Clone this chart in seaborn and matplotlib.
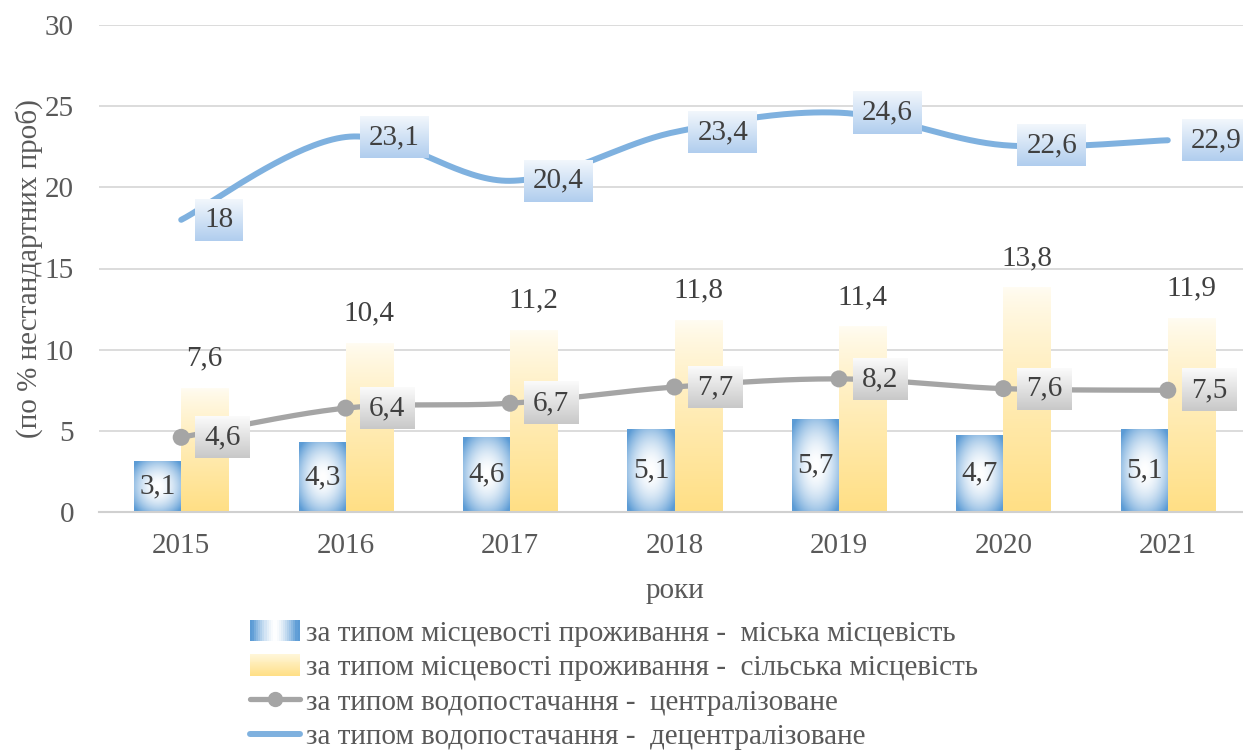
import numpy as np
import pandas as pd
import matplotlib
matplotlib.use("Agg")
import matplotlib.pyplot as plt
import seaborn as sns
from matplotlib import font_manager
from matplotlib.colors import to_rgb
from matplotlib.legend_handler import HandlerBase
from matplotlib.patches import Rectangle
from matplotlib.lines import Line2D

# data
years = ["2015", "2016", "2017", "2018", "2019", "2020", "2021"]
urban = [3.1, 4.3, 4.6, 5.1, 5.7, 4.7, 5.1]
rural = [7.6, 10.4, 11.2, 11.8, 11.4, 13.8, 11.9]
central = [4.6, 6.4, 6.7, 7.7, 8.2, 7.6, 7.5]
decentral = [18, 23.1, 20.4, 23.4, 24.6, 22.6, 22.9]
series_names = [
    "за типом місцевості проживання -  міська місцевість",
    "за типом місцевості проживання -  сільська місцевість",
    "за типом водопостачання -  централізоване",
    "за типом водопостачання -  децентралізоване",
]

BLUE = "#5B9BD5"
LINE_BLUE = "#7FB1DF"
GRAY = "#A5A5A5"
YELLOW_BOT = "#FFDF85"
YELLOW_TOP = "#FFFCF2"
TXT = "#404040"
TICK = "#595959"
FS = 21


def pick_font(cands):
    for name in cands:
        try:
            font_manager.findfont(font_manager.FontProperties(family=name), fallback_to_default=False)
            return name
        except ValueError:
            continue
    return "DejaVu Serif"


def lerp(c1, c2, t):
    a, b = np.array(to_rgb(c1)), np.array(to_rgb(c2))
    t = np.asarray(t)[..., None]
    return a * (1 - t) + b * t


def fmt(v):
    return f"{v:g}".replace(".", ",")


def smooth(xs, ys, n=40):
    # catmull-rom style smoothing, like excel "smoothed line"
    pts = np.column_stack([xs, ys]).astype(float)
    ext = np.vstack([pts[0], pts, pts[-1]])
    out = []
    for i in range(len(pts) - 1):
        p0, p1, p2, p3 = ext[i], ext[i + 1], ext[i + 2], ext[i + 3]
        c1 = p1 + (p2 - p0) / 6
        c2 = p2 - (p3 - p1) / 6
        t = np.linspace(0, 1, n)[:, None]
        seg = (1 - t) ** 3 * p1 + 3 * (1 - t) ** 2 * t * c1 + 3 * (1 - t) * t ** 2 * c2 + t ** 3 * p2
        out.append(seg if i == 0 else seg[1:])
    out = np.vstack(out)
    return out[:, 0], out[:, 1]


def radial_blue(nx=60, ny=120):
    u = np.linspace(-1, 1, nx)
    v = np.linspace(-1, 1, ny)
    U, V = np.meshgrid(u, v)
    t = np.clip(np.sqrt(U ** 2 + V ** 2) / 1.3, 0, 1) ** 1.9
    return lerp("#FFFFFF", BLUE, t)


def vertical(top, bot, ny=120, power=0.8):
    t = np.linspace(1, 0, ny) ** power  # origin lower: row 0 is bottom
    return lerp(top, bot, t)[:, None, :]


class GradientHandler(HandlerBase):
    def __init__(self, kind):
        super().__init__()
        self.kind = kind

    def create_artists(self, legend, orig_handle, xdescent, ydescent, width, height, fontsize, trans):
        arts = []
        n = 24
        if self.kind == "blue":
            for k in range(n):
                s = (k + 0.5) / n
                t = min(abs(s - 0.5) * 2 / 0.9, 1) ** 1.5
                c = lerp("#FFFFFF", BLUE, t)
                arts.append(Rectangle((-xdescent + width * k / n, -ydescent), width / n * 1.05, height,
                                      facecolor=c, edgecolor="none", lw=0, transform=trans))
        else:
            for k in range(n):
                s = (k + 0.5) / n
                c = lerp(YELLOW_BOT, "#FFF6DA", s)
                arts.append(Rectangle((-xdescent, -ydescent + height * k / n), width, height / n * 1.05,
                                      facecolor=c, edgecolor="none", lw=0, transform=trans))
        return arts


sns.set_theme(style="white")
serif = pick_font(["Liberation Serif", "Tinos", "Times New Roman", "PT Serif"])
plt.rcParams["font.family"] = [serif, "DejaVu Serif"]

W, H = 1243, 753
fig = plt.figure(figsize=(W / 100, H / 100), dpi=100)
ax = fig.add_axes([99 / W, 1 - 512 / H, (1250 - 99) / W, (512 - 25) / H])

df = pd.DataFrame({
    "year": years * 2,
    "value": urban + rural,
    "type": [series_names[0]] * len(years) + [series_names[1]] * len(years),
})
sns.barplot(data=df, x="year", y="value", hue="type", palette=[BLUE, YELLOW_BOT],
            width=0.572, gap=0, saturation=1, errorbar=None, legend=False, ax=ax, zorder=2)

ax.set_autoscale_on(False)
ax.set_xlim(-0.5, 6.5)
ax.set_ylim(0, 30)

blue_img = radial_blue()
yellow_img = vertical(YELLOW_TOP, YELLOW_BOT)
for cont, img in zip(ax.containers, [blue_img, yellow_img]):
    for p in cont.patches:
        x0, y0, w, h = p.get_x(), p.get_y(), p.get_width(), p.get_height()
        p.set_alpha(0)
        ax.imshow(img, extent=(x0, x0 + w, y0, y0 + h), origin="lower", aspect="auto",
                  interpolation="bilinear", zorder=2.1)

xpos = np.arange(len(years))
sx, sy = smooth(xpos, central)
ax.plot(sx, sy, color=GRAY, lw=3.8, solid_capstyle="round", zorder=3)
sns.scatterplot(x=xpos, y=central, color=GRAY, s=150, edgecolor="none", ax=ax, zorder=3.2)
sx, sy = smooth(xpos, decentral)
ax.plot(sx, sy, color=LINE_BLUE, lw=4.3, solid_capstyle="round", zorder=3)

# labels on bars
for p, v in zip(ax.containers[0].patches, urban):
    ax.text(p.get_x() + p.get_width() / 2, v / 2, fmt(v), ha="center", va="center",
            fontsize=FS, color=TXT, zorder=6)
for p, v in zip(ax.containers[1].patches, rural):
    ax.annotate(fmt(v), (p.get_x() + p.get_width() / 2, v), xytext=(0, 30), textcoords="offset pixels",
                ha="center", va="center", fontsize=FS, color=TXT, zorder=6)

# labels in gradient boxes to the right of the line points
boxed = []
for vals, top, bot in [(central, "#FBFBFB", "#C8C8C8"), (decentral, "#F2F7FC", "#B0CDEE")]:
    for i, v in enumerate(vals):
        t = ax.annotate(fmt(v), (i, v), xytext=(23, 0), textcoords="offset pixels",
                        ha="left", va="center", fontsize=FS, color=TXT, zorder=6)
        boxed.append((t, top, bot))

ax.set_xlabel("роки", fontsize=FS, color=TICK, labelpad=14)
ax.set_ylabel("(по % нестандартних проб)", fontsize=FS, color=TICK, labelpad=1)
ax.set_yticks(range(0, 31, 5))
ax.tick_params(axis="y", length=0, pad=18, labelsize=FS, labelcolor=TICK)
ax.tick_params(axis="x", length=0, pad=15, labelsize=FS, labelcolor=TICK)
ax.yaxis.grid(True, color="#D9D9D9", lw=1.3)
ax.set_axisbelow(True)
for s in ["top", "right", "left"]:
    ax.spines[s].set_visible(False)
ax.spines["bottom"].set_color("#D0D0D0")
ax.spines["bottom"].set_linewidth(1.5)

handles = [
    Rectangle((0, 0), 1, 1), Rectangle((0, 0), 1, 1),
    Line2D([], [], color=GRAY, lw=3.8, marker="o", markersize=10),
    Line2D([], [], color=LINE_BLUE, lw=4.3),
]
leg = ax.legend(handles, series_names, loc="upper left", bbox_to_anchor=(250 / W, 1 - 620 / H),
                bbox_transform=fig.transFigure, frameon=False, fontsize=21, handlelength=1.7,
                handleheight=0.75, handletextpad=0.22, labelspacing=0.26, borderpad=0, borderaxespad=0,
                handler_map={handles[0]: GradientHandler("blue"), handles[1]: GradientHandler("yellow")})
for t in leg.get_texts():
    t.set_color(TICK)

fig.canvas.draw()
renderer = fig.canvas.get_renderer()
inv = ax.transData.inverted()
for t, top, bot in boxed:
    bb = t.get_window_extent(renderer)
    cy = (bb.y0 + bb.y1) / 2
    (x0, y0), (x1, y1) = inv.transform([(bb.x0 - 9, cy - 21), (bb.x1 + 9, cy + 21)])
    ax.imshow(vertical(top, bot, power=1.0), extent=(x0, x1, y0, y1), origin="lower", aspect="auto",
              interpolation="bilinear", zorder=5)

fig.savefig("out.png", dpi=100)
